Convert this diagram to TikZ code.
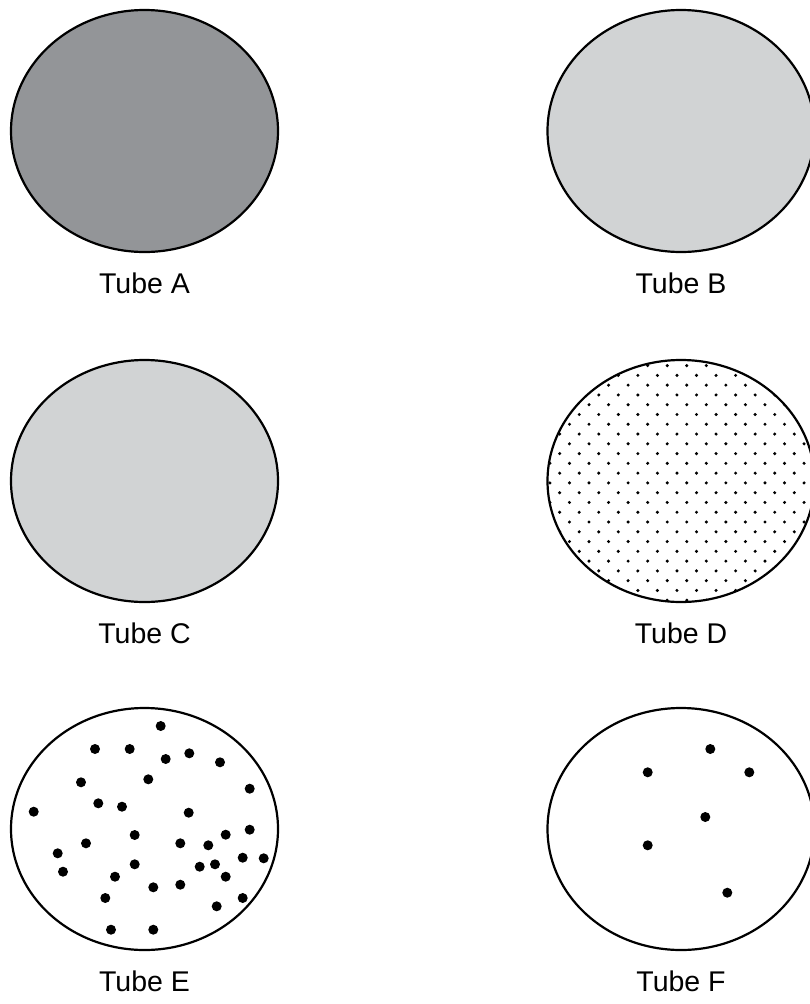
\documentclass[tikz,border=0pt]{standalone}
\usepackage{fontspec}
\setmainfont{Liberation Sans}
\usetikzlibrary{positioning, shapes.geometric}

\definecolor{darkfill}{RGB}{147,149,152}
\definecolor{lightfill}{RGB}{209,211,212}

\begin{document}
\begin{tikzpicture}[x=1pt, y=-1pt, node distance=19pt, line width=2.2pt,
    tube/.style={draw, ellipse, minimum width=267pt, minimum height=242pt, inner sep=0pt},
    caption/.style={inner sep=0pt, font=\fontsize{28.5}{34}\selectfont},
    colony/.style={fill=black}]
  \useasboundingbox (0,0) rectangle (810,1004);
  % top row
  \node[tube, fill=darkfill] (A) at (144.5,131) {};
  \node[tube, fill=lightfill] (B) at (681,131) {};
  \node[caption] (capA) [below=of A] {Tube A};
  \node[caption] (capB) [below=of B] {Tube B};
  % middle row
  \node[tube, fill=lightfill] (C) at (144.5,481) {};
  \node[tube] (D) at (681,481) {};
  \node[caption] (capC) [below=of C] {Tube C};
  \node[caption] (capD) [below=of D] {Tube D};
  \begin{scope}
    \clip (D.center) ellipse [x radius=133.5pt, y radius=121pt];
    \foreach \i in {0,...,14}
      \foreach \j in {0,...,12} {
        \fill (549.9+19.55*\i, 365.6+19.55*\j) circle (1.7pt);
        \fill (540.1+19.55*\i, 355.85+19.55*\j) circle (1.7pt);
      }
  \end{scope}
  % bottom row
  \node[tube] (E) at (144.5,829) {};
  \node[tube] (F) at (681,829) {};
  \node[caption] (capE) [below=of E] {Tube E};
  \node[caption] (capF) [below=of F] {Tube F};
  \foreach \x/\y in {160.7/726, 95/749, 129.7/749, 165.7/759, 189.3/753.3,
      220/762.3, 81/782.3, 148.3/779.3, 249.7/788.7, 33.7/811.7, 98.3/803.3,
      122/806.7, 188.7/812.7, 249.7/829.7, 225.7/834.7, 134.7/835, 86/843.3,
      180.3/843.3, 208.3/845.3, 57.7/853.3, 242.7/857.7, 263.7/858.3,
      134.7/864.3, 199.7/866.7, 215/864.3, 63/871.7, 115/876.7, 225.7/876.7,
      153.3/887.3, 180.3/884.7, 105.3/898, 242.7/898, 216.7/906.3,
      111/929.7, 153.3/929.7}
    \fill[colony] (\x,\y) circle (5pt);
  \foreach \x/\y in {710.3/749, 647.7/772.3, 749.3/772.3, 705.3/817,
      647.7/845.3, 727.3/892.7}
    \fill[colony] (\x,\y) circle (5pt);
\end{tikzpicture}
\end{document}
